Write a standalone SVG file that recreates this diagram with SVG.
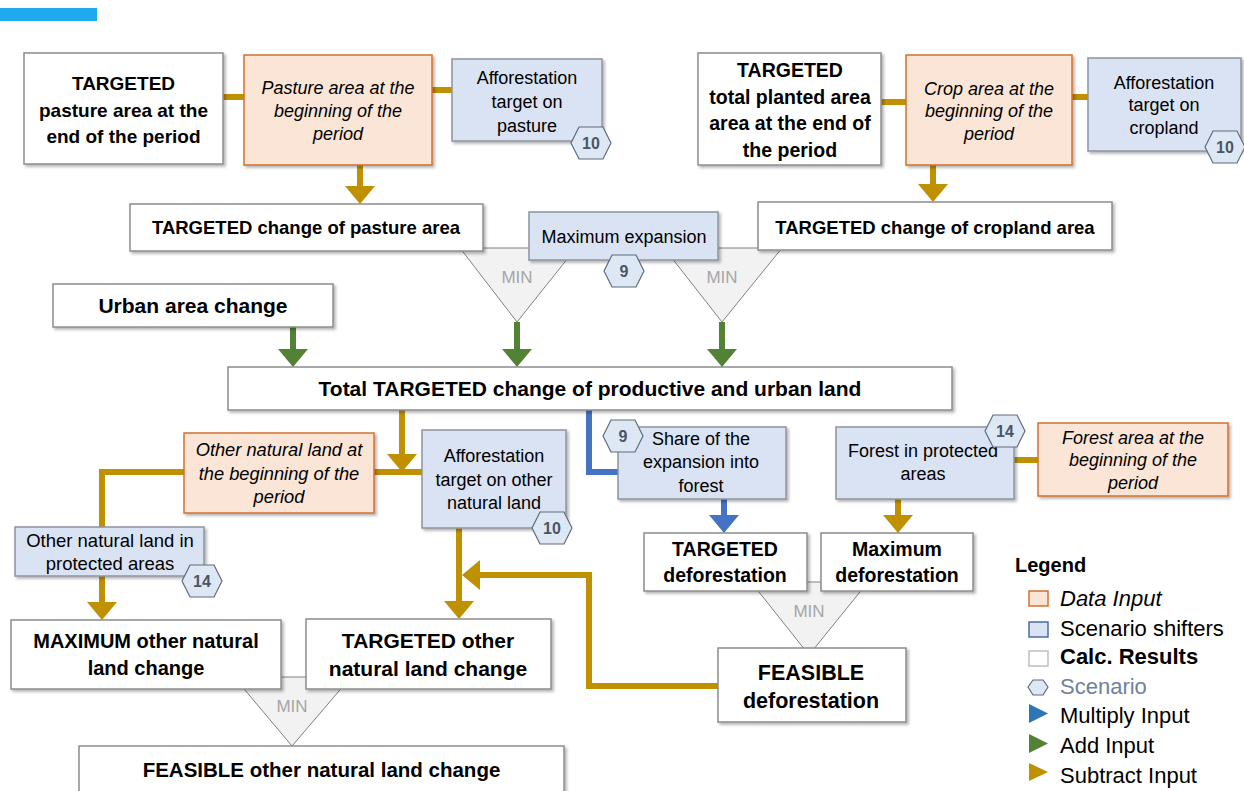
<svg xmlns="http://www.w3.org/2000/svg" width="1244" height="791" viewBox="0 0 1244 791">
<style>
text{font-family:"Liberation Sans",Arial,sans-serif;fill:#000;text-anchor:middle}
.b{font-weight:bold}
.i{font-style:italic}
.calc{fill:#fff;stroke:#8c8c8c;stroke-width:1.5;filter:url(#sh)}
.data{fill:#fbe5d6;stroke:#d2712f;stroke-width:1.5;filter:url(#sh)}
.scen{fill:#dae3f3;stroke:#8d949e;stroke-width:1.5;filter:url(#sh)}
.hex{fill:#dee8f4;stroke:#5e6b80;stroke-width:1.2}
.hext{font-weight:bold;font-size:16px;fill:#4a5568}
.tri{fill:#f2f2f2;stroke:#808080;stroke-width:1}
.mint{font-size:17px;fill:#a6a6a6}
.gold{stroke:#bf9000;stroke-width:6;fill:none}
.green{stroke:#548235;stroke-width:6;fill:none}
.blue{stroke:#4472c4;stroke-width:6;fill:none}
.lg{text-anchor:start;font-size:22px}
</style>
<defs>
<filter id="sh" x="-10%" y="-10%" width="130%" height="140%">
<feDropShadow dx="2" dy="2" stdDeviation="1.5" flood-color="#000" flood-opacity="0.3"/>
</filter>
<marker id="ag" viewBox="0 0 18 30" refX="0" refY="15" markerWidth="18" markerHeight="30" markerUnits="userSpaceOnUse" orient="auto"><path d="M0,0 L18,15 L0,30 z" fill="#bf9000"/></marker>
<marker id="agr" viewBox="0 0 18 30" refX="0" refY="15" markerWidth="18" markerHeight="30" markerUnits="userSpaceOnUse" orient="auto"><path d="M0,0 L18,15 L0,30 z" fill="#548235"/></marker>
<marker id="ab" viewBox="0 0 18 30" refX="0" refY="15" markerWidth="18" markerHeight="30" markerUnits="userSpaceOnUse" orient="auto"><path d="M0,0 L18,15 L0,30 z" fill="#4472c4"/></marker>
</defs>

<rect x="0" y="8" width="97" height="13" fill="#1fa9ee"/>

<!-- MIN triangles -->
<g id="min1"><polygon class="tri" points="460,248 576,248 517,322"/><text class="mint" x="517" y="283">MIN</text></g>
<g id="min2"><polygon class="tri" points="664,248 782,248 722,322"/><text class="mint" x="722" y="283">MIN</text></g>
<g id="min3"><polygon class="tri" points="751,582 868,582 809,655"/><text class="mint" x="809" y="617">MIN</text></g>
<g id="min4"><polygon class="tri" points="234,677 351,677 292,746"/><text class="mint" x="292" y="712">MIN</text></g>

<g id="connectors">
<line class="gold" x1="223" y1="97" x2="244" y2="97"/>
<line class="gold" x1="432" y1="90" x2="452" y2="90"/>
<line class="gold" x1="881" y1="102" x2="906" y2="102"/>
<line class="gold" x1="1072" y1="97" x2="1088" y2="97"/>
<line class="gold" x1="360" y1="165" x2="360" y2="186" marker-end="url(#ag)"/>
<line class="gold" x1="933" y1="165" x2="933" y2="184" marker-end="url(#ag)"/>
<line class="green" x1="517" y1="322" x2="517" y2="349" marker-end="url(#agr)"/>
<line class="green" x1="722" y1="322" x2="722" y2="349" marker-end="url(#agr)"/>
<line class="green" x1="293" y1="327" x2="293" y2="349" marker-end="url(#agr)"/>
<polyline class="gold" points="184,472 102,472 102,527"/>
<line class="gold" x1="374" y1="472" x2="422" y2="472"/>
<line class="gold" x1="402" y1="410" x2="402" y2="454" marker-end="url(#ag)"/>
<line class="gold" x1="102" y1="576" x2="102" y2="602" marker-end="url(#ag)"/>
<line class="gold" x1="459" y1="528" x2="459" y2="601" marker-end="url(#ag)"/>
<polyline class="gold" points="718,686 589,686 589,575 480,575" marker-end="url(#ag)"/>
<polyline class="blue" points="589,410 589,472 618,472"/>
<line class="blue" x1="724" y1="499" x2="724" y2="515" marker-end="url(#ab)"/>
<line class="gold" x1="1014" y1="460" x2="1038" y2="460"/>
<line class="gold" x1="898" y1="499" x2="898" y2="515" marker-end="url(#ag)"/>
</g>

<g id="n_past_end"><rect class="calc" x="24" y="53" width="199" height="111"/>
<text class="b" font-size="19" x="123.5" y="90">TARGETED</text>
<text class="b" font-size="19" x="123.5" y="117">pasture area at the</text>
<text class="b" font-size="19" x="123.5" y="143">end of the period</text></g>

<g id="n_past_begin"><rect class="data" x="244" y="55" width="188" height="110"/>
<text class="i" font-size="18" x="338" y="93.5">Pasture area at the</text>
<text class="i" font-size="18" x="338" y="116.5">beginning of the</text>
<text class="i" font-size="18" x="338" y="139.5">period</text></g>

<g id="n_aff_past"><rect class="scen" x="452" y="59" width="150" height="82"/>
<text font-size="18" x="527" y="83.5">Afforestation</text>
<text font-size="18" x="527" y="107.5">target on</text>
<text font-size="18" x="527" y="131.5">pasture</text>
<polygon class="hex" points="571,143 579,127 603,127 611,143 603,159 579,159"/>
<text class="hext" x="591" y="149">10</text></g>

<g id="n_crop_end"><rect class="calc" x="698" y="53" width="183" height="112"/>
<text class="b" font-size="19.5" x="790" y="77">TARGETED</text>
<text class="b" font-size="19.5" x="790" y="104">total planted area</text>
<text class="b" font-size="19.5" x="790" y="130">area at the end of</text>
<text class="b" font-size="19.5" x="790" y="157">the period</text></g>

<g id="n_crop_begin"><rect class="data" x="906" y="55" width="166" height="110"/>
<text class="i" font-size="18" x="989" y="94.5">Crop area at the</text>
<text class="i" font-size="18" x="989" y="116.5">beginning of the</text>
<text class="i" font-size="18" x="989" y="139.5">period</text></g>

<g id="n_aff_crop"><rect class="scen" x="1088" y="58" width="153" height="93"/>
<text font-size="18" x="1164" y="88.5">Afforestation</text>
<text font-size="18" x="1164" y="110.5">target on</text>
<text font-size="18" x="1164" y="133.5">cropland</text>
<polygon class="hex" points="1205,147 1213,131 1237,131 1245,147 1237,163 1213,163"/>
<text class="hext" x="1225" y="153">10</text></g>

<g id="n_past_change"><rect class="calc" x="130" y="204" width="353" height="47"/>
<text class="b" font-size="18.5" x="306" y="233.5">TARGETED change of pasture area</text></g>

<g id="n_crop_change"><rect class="calc" x="758" y="202" width="354" height="48"/>
<text class="b" font-size="18.5" x="935" y="233.5">TARGETED change of cropland area</text></g>

<g id="n_max_exp"><rect class="scen" x="529" y="212" width="189" height="48"/>
<text font-size="18" x="624" y="243">Maximum expansion</text>
<polygon class="hex" points="604,271 612,255 636,255 644,271 636,287 612,287"/>
<text class="hext" x="624" y="277">9</text></g>

<g id="n_urban"><rect class="calc" x="53" y="284" width="280" height="43"/>
<text class="b" font-size="21" x="193" y="313">Urban area change</text></g>

<g id="n_total"><rect class="calc" x="228" y="367" width="724" height="43"/>
<text class="b" font-size="21" x="590" y="395.5">Total TARGETED change of productive and urban land</text></g>

<g id="n_other_begin"><rect class="data" x="184" y="433" width="190" height="80"/>
<text class="i" font-size="18.3" x="279" y="455.5">Other natural land at</text>
<text class="i" font-size="18.3" x="279" y="479.5">the beginning of the</text>
<text class="i" font-size="18.3" x="279" y="502.5">period</text></g>

<g id="n_aff_other"><rect class="scen" x="422" y="430" width="144" height="98"/>
<text font-size="18" x="494" y="461.5">Afforestation</text>
<text font-size="18" x="494" y="485.5">target on other</text>
<text font-size="18" x="494" y="508.5">natural land</text>
<polygon class="hex" points="532,528 540,512 564,512 572,528 564,544 540,544"/>
<text class="hext" x="552" y="534">10</text></g>

<g id="n_other_prot"><rect class="scen" x="15" y="527" width="189" height="49"/>
<text font-size="18.5" x="110" y="546.5">Other natural land in</text>
<text font-size="18.5" x="110" y="569.5">protected areas</text>
<polygon class="hex" points="182,581 190,565 214,565 222,581 214,597 190,597"/>
<text class="hext" x="202" y="587">14</text></g>

<g id="n_share"><rect class="scen" x="618" y="427" width="168" height="72"/>
<text font-size="18" x="701" y="445">Share of the</text>
<text font-size="18" x="701" y="468">expansion into</text>
<text font-size="18" x="701" y="492">forest</text>
<polygon class="hex" points="603,436 611,420 635,420 643,436 635,452 611,452"/>
<text class="hext" x="623" y="442">9</text></g>

<g id="n_forest_prot"><rect class="scen" x="836" y="427" width="178" height="72"/>
<text font-size="18" x="923" y="457">Forest in protected</text>
<text font-size="18" x="923" y="480">areas</text>
<polygon class="hex" points="985,431 993,415 1017,415 1025,431 1017,447 993,447"/>
<text class="hext" x="1005" y="437">14</text></g>

<g id="n_forest_begin"><rect class="data" x="1038" y="423" width="190" height="73"/>
<text class="i" font-size="18" x="1133" y="443.5">Forest area at the</text>
<text class="i" font-size="18" x="1133" y="465.5">beginning of the</text>
<text class="i" font-size="18" x="1133" y="488.5">period</text></g>

<g id="n_tgt_defo"><rect class="calc" x="644" y="533" width="163" height="58"/>
<text class="b" font-size="19.5" x="725" y="556">TARGETED</text>
<text class="b" font-size="19.5" x="725" y="582">deforestation</text></g>

<g id="n_max_defo"><rect class="calc" x="821" y="533" width="152" height="58"/>
<text class="b" font-size="19.5" x="897" y="556">Maximum</text>
<text class="b" font-size="19.5" x="897" y="582">deforestation</text></g>

<g id="n_feas_defo"><rect class="calc" x="718" y="648" width="188" height="74"/>
<text class="b" font-size="21.5" x="811" y="679.5">FEASIBLE</text>
<text class="b" font-size="21.5" x="811" y="707.5">deforestation</text></g>

<g id="n_max_other"><rect class="calc" x="11" y="620" width="270" height="69"/>
<text class="b" font-size="20" x="146" y="648">MAXIMUM other natural</text>
<text class="b" font-size="20" x="146" y="675">land change</text></g>

<g id="n_tgt_other"><rect class="calc" x="306" y="619" width="245" height="70"/>
<text class="b" font-size="21" x="428" y="647.5">TARGETED other</text>
<text class="b" font-size="21" x="428" y="675.5">natural land change</text></g>

<g id="n_feas_other"><rect class="calc" x="79" y="746" width="485" height="60"/>
<text class="b" font-size="20.5" x="321.5" y="777">FEASIBLE other natural land change</text></g>

<g id="legend">
<text class="b" font-size="20" x="1015" y="572" style="text-anchor:start">Legend</text>
<rect x="1029" y="591" width="19" height="15" fill="#fbe5d6" stroke="#d2712f" stroke-width="1.5"/>
<text class="lg i" x="1060" y="606">Data Input</text>
<rect x="1029" y="622" width="19" height="15" fill="#dae3f3" stroke="#4a6ba8" stroke-width="1.5"/>
<text class="lg" x="1060" y="636">Scenario shifters</text>
<rect x="1029" y="651" width="19" height="15" fill="#fff" stroke="#bfbfbf" stroke-width="1.5"/>
<text class="lg b" x="1060" y="664">Calc. Results</text>
<polygon points="1028,687 1033,680 1043,680 1048,687 1043,695 1033,695" fill="#dee8f4" stroke="#5e6b80" stroke-width="1.2"/>
<text class="lg" x="1060" y="694" style="fill:#6f819c">Scenario</text>
<polygon points="1029,704 1048,713.5 1029,723" fill="#2e75b6"/>
<text class="lg" x="1060" y="723">Multiply Input</text>
<polygon points="1029,734 1048,743.5 1029,753" fill="#548235"/>
<text class="lg" x="1060" y="753">Add Input</text>
<polygon points="1029,763 1048,772 1029,781" fill="#bf9000"/>
<text class="lg" x="1060" y="783">Subtract Input</text>
</g>
</svg>
